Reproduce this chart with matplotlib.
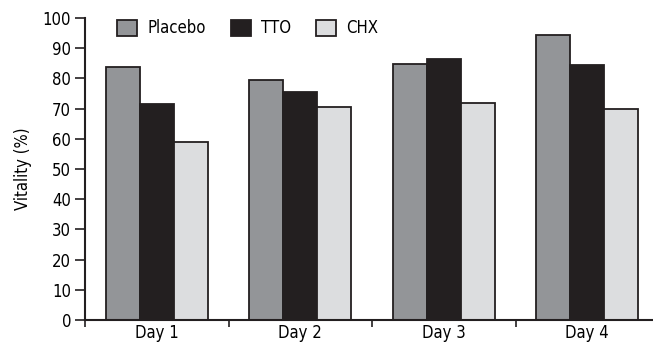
import matplotlib
matplotlib.use('Agg')
import matplotlib.pyplot as plt
import numpy as np

days = ['Day 1', 'Day 2', 'Day 3', 'Day 4']
placebo = [83.9, 79.5, 84.7, 94.3]
tto = [71.6, 75.5, 86.4, 84.6]
chx = [59.0, 70.5, 72.0, 70.0]

plt.rcParams['font.family'] = ['DejaVu Sans']
plt.rcParams['font.stretch'] = 'condensed'

fig = plt.figure(figsize=(6.53, 3.44), dpi=100)
ax = fig.add_axes([85 / 653, 24 / 344, 574 / 653, 302 / 344])

x = np.arange(len(days)) + 0.5  # category centres
width = 0.237

ax.bar(x - width, placebo, width, color='#939598', edgecolor='#231f20', linewidth=1.3, label='Placebo')
ax.bar(x, tto, width, color='#231f20', edgecolor='#231f20', linewidth=1.3, label='TTO')
ax.bar(x + width, chx, width, color='#dcdddf', edgecolor='#231f20', linewidth=1.3, label='CHX')

ax.set_xlim(0, 4)
ax.set_ylim(0, 100)
ax.set_yticks(np.arange(0, 101, 10))
ax.set_xticks(np.arange(0, 5))
ax.set_xticklabels([])
ax.set_xticks(x, minor=True)
ax.set_xticklabels(days, minor=True)
ax.tick_params(axis='x', which='major', direction='out', length=5, width=1.2, color='#231f20')
ax.tick_params(axis='x', which='minor', length=0, pad=3, labelsize=12)
ax.tick_params(axis='y', direction='out', length=7, width=1.2, color='#231f20', labelsize=12, pad=3)

for s in ['top', 'right']:
    ax.spines[s].set_visible(False)
for s in ['left', 'bottom']:
    ax.spines[s].set_linewidth(1.5)
    ax.spines[s].set_color('#231f20')

ax.set_ylabel('Vitality (%)', fontsize=12, labelpad=8)

ax.legend(ncol=3, loc='upper left', bbox_to_anchor=(0.03, 1.045), frameon=False,
          fontsize=12, handlelength=1.2, handleheight=1.1, columnspacing=1.5,
          handletextpad=0.6)

fig.savefig('out.png', dpi=100)
